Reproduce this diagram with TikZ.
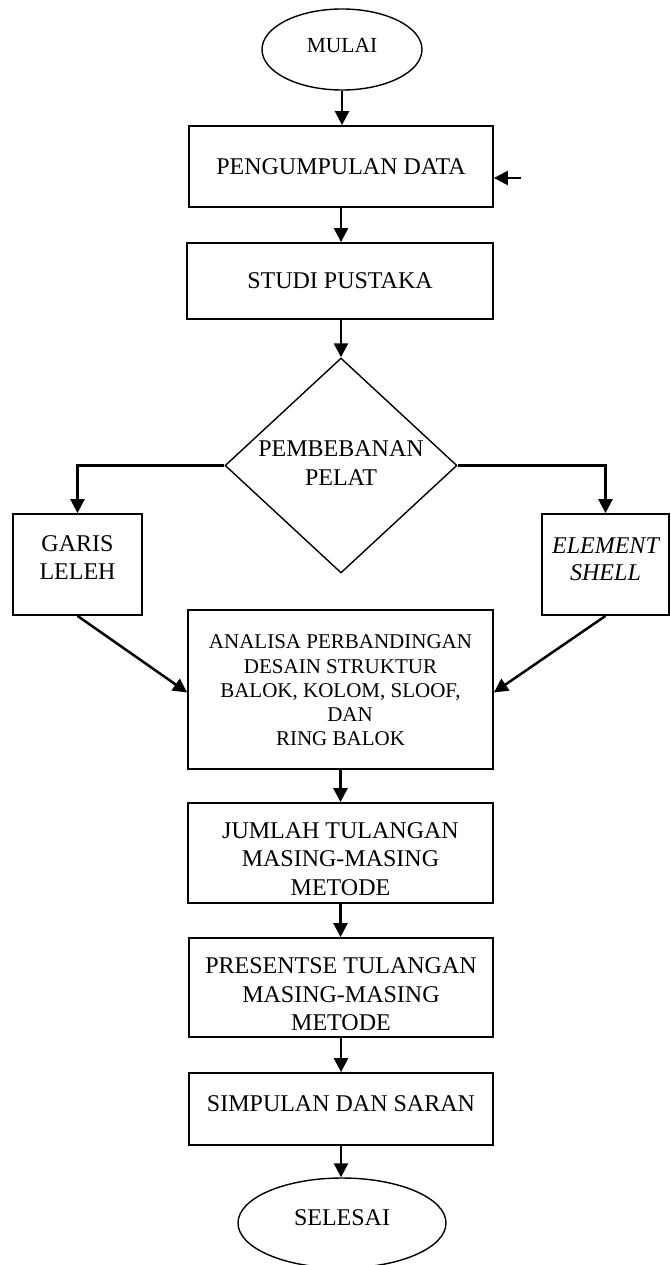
\documentclass[tikz,border=0pt]{standalone}
\usepackage{fontspec}
\setmainfont{Liberation Serif}
\usetikzlibrary{shapes.geometric,arrows.meta}
\tikzset{
  box/.style={draw, line width=1.8pt, rectangle, inner sep=0pt},
  term/.style={draw, line width=1.4pt, ellipse, inner sep=0pt},
  decide/.style={draw, line width=1.4pt, diamond, inner sep=0pt},
  lbl/.style={align=center, inner sep=0pt, font=\fontsize{24}{28.5}\selectfont},
  smalllbl/.style={align=center, inner sep=0pt, font=\fontsize{21}{24.3}\selectfont},
  arr/.style={line width=2.5pt, -{Triangle[width=14pt,length=14pt]}},
}
\begin{document}
\begin{tikzpicture}[x=1pt,y=-1pt]
\useasboundingbox (0,0) rectangle (670,1265);
\node[term, minimum width=160pt, minimum height=81pt,
  label={[lbl, font=\fontsize{21.5}{26}\selectfont, yshift=4pt]center:MULAI}] (mulai) at (342,49.5) {};
\node[box, minimum width=304pt, minimum height=81pt,
  label={[lbl]center:PENGUMPULAN DATA}] (peng) at (341,166.5) {};
\node[box, minimum width=306pt, minimum height=76pt,
  label={[lbl]center:STUDI PUSTAKA}] (studi) at (340,281) {};
\node[decide, minimum width=232pt, minimum height=215pt,
  label={[lbl, yshift=2.5pt]center:{PEMBEBANAN\\PELAT}}] (diam) at (341,465.5) {};
\node[box, minimum width=129pt, minimum height=101pt,
  label={[lbl, yshift=7pt]center:{GARIS\\LELEH}}] (garis) at (77.5,564.5) {};
\node[box, minimum width=127pt, minimum height=101pt,
  label={[lbl, yshift=5pt, font=\fontsize{24}{27}\selectfont\itshape]center:{ELEMENT\\SHELL}}] (elem) at (605.5,564.5) {};
\node[box, minimum width=305pt, minimum height=159pt,
  label={[smalllbl, yshift=-1pt]center:{ANALISA PERBANDINGAN\\DESAIN STRUKTUR\\BALOK, KOLOM, SLOOF,\\\hspace*{19pt}DAN\\RING BALOK}}] (analisa) at (340.5,689.5) {};
\node[box, minimum width=305pt, minimum height=100pt,
  label={[lbl, yshift=-6pt]center:{JUMLAH TULANGAN\\MASING-MASING\\METODE}}] (jumlah) at (340.5,853) {};
\node[box, minimum width=304pt, minimum height=99pt,
  label={[lbl, yshift=-7pt]center:{PRESENTSE TULANGAN\\MASING-MASING\\METODE}}] (pres) at (341,987.5) {};
\node[box, minimum width=304pt, minimum height=72pt,
  label={[lbl, yshift=5pt]center:SIMPULAN DAN SARAN}] (simp) at (341,1109) {};
\node[term, minimum width=208pt, minimum height=90pt,
  label={[lbl, yshift=5pt]center:SELESAI}] (selesai) at (342,1223) {};

\coordinate (sidein) at (521,178);

\draw[arr] (mulai.south) -- (mulai.south |- peng.north);
\draw[arr] (sidein) -- (peng.east |- sidein);
\draw[arr] (peng.south) -- (peng.south |- studi.north);
\draw[arr] (studi.south -| diam.north) -- (diam.north);
\draw[arr] (diam.west) -| (garis.north);
\draw[arr] (diam.east) -| (elem.north);
\draw[arr] (garis.south) -- ([yshift=-3pt]analisa.west);
\draw[arr] (elem.south) -- ([yshift=-3pt]analisa.east);
\draw[arr] (analisa.south) -- (analisa.south |- jumlah.north);
\draw[arr] (jumlah.south) -- (jumlah.south |- pres.north);
\draw[arr] (pres.south) -- (pres.south |- simp.north);
\draw[arr] (simp.south) -- (simp.south |- selesai.north);
\end{tikzpicture}
\end{document}
